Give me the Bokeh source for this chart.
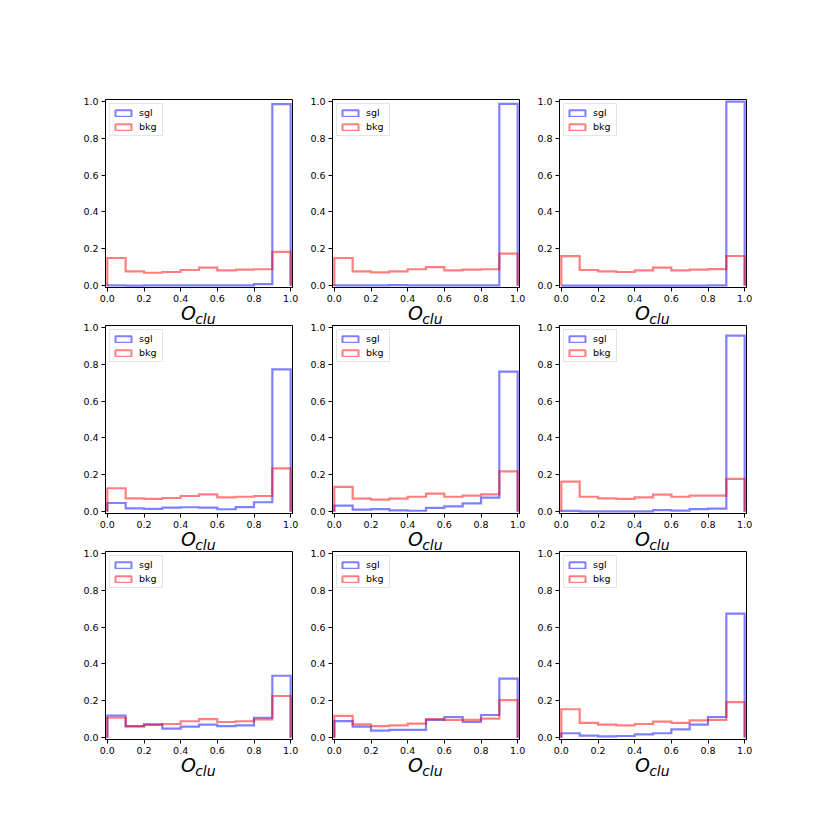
from bokeh.plotting import figure
from bokeh.layouts import gridplot
from bokeh.models import (Legend, LegendItem, FixedTicker, PrintfTickFormatter,
                          Range1d, LinearAxis)
from bokeh.embed import file_html
from bokeh.resources import INLINE

# ---- data (normalised histogram heights, 10 bins on [0, 1]) ----
bin_edges = [0.0, 0.1, 0.2, 0.3, 0.4, 0.5, 0.6, 0.7, 0.8, 0.9, 1.0]
tick_values = [0.0, 0.2, 0.4, 0.6, 0.8, 1.0]
series_labels = ["sgl", "bkg"]
xlabel_main = "O"
xlabel_sub = "clu"

sgl_1 = [0.001, 0.0, 0.001, 0.001, 0.001, 0.001, 0.001, 0.002, 0.008, 0.985]
bkg_1 = [0.150, 0.078, 0.070, 0.074, 0.085, 0.098, 0.083, 0.087, 0.089, 0.183]
sgl_2 = [0.001, 0.001, 0.001, 0.003, 0.002, 0.002, 0.001, 0.001, 0.002, 0.986]
bkg_2 = [0.150, 0.078, 0.072, 0.078, 0.089, 0.101, 0.083, 0.087, 0.089, 0.174]
sgl_3 = [0.0, 0.0, 0.0, 0.0, 0.0, 0.0, 0.0, 0.0, 0.001, 0.999]
bkg_3 = [0.160, 0.085, 0.078, 0.074, 0.083, 0.098, 0.083, 0.087, 0.090, 0.161]
sgl_4 = [0.047, 0.018, 0.015, 0.022, 0.024, 0.022, 0.013, 0.025, 0.051, 0.772]
bkg_4 = [0.127, 0.072, 0.069, 0.074, 0.085, 0.094, 0.078, 0.081, 0.085, 0.235]
sgl_5 = [0.033, 0.011, 0.014, 0.007, 0.005, 0.020, 0.029, 0.045, 0.076, 0.760]
bkg_5 = [0.134, 0.071, 0.065, 0.071, 0.081, 0.098, 0.081, 0.087, 0.094, 0.219]
sgl_6 = [0.004, 0.001, 0.001, 0.002, 0.002, 0.008, 0.006, 0.014, 0.016, 0.955]
bkg_6 = [0.163, 0.081, 0.072, 0.069, 0.078, 0.092, 0.081, 0.087, 0.087, 0.178]
sgl_7 = [0.119, 0.061, 0.072, 0.049, 0.060, 0.071, 0.063, 0.067, 0.108, 0.336]
bkg_7 = [0.108, 0.063, 0.069, 0.074, 0.089, 0.101, 0.085, 0.089, 0.099, 0.226]
sgl_8 = [0.090, 0.060, 0.038, 0.042, 0.042, 0.096, 0.112, 0.085, 0.123, 0.320]
bkg_8 = [0.118, 0.072, 0.063, 0.067, 0.076, 0.101, 0.096, 0.096, 0.103, 0.204]
sgl_9 = [0.024, 0.011, 0.007, 0.009, 0.018, 0.024, 0.045, 0.071, 0.112, 0.673]
bkg_9 = [0.154, 0.080, 0.071, 0.067, 0.074, 0.087, 0.080, 0.094, 0.096, 0.193]

panels = [
    [(sgl_1, bkg_1), (sgl_2, bkg_2), (sgl_3, bkg_3)],
    [(sgl_4, bkg_4), (sgl_5, bkg_5), (sgl_6, bkg_6)],
    [(sgl_7, bkg_7), (sgl_8, bkg_8), (sgl_9, bkg_9)],
]

SGL_COLOR = "blue"
BKG_COLOR = "red"
FONT = "DejaVu Sans"
NAN = float("nan")

FRAME_W = 187
BORDER_LEFT = [105, 28, 28]
BORDER_RIGHT = [12, 12, 20]
BORDER_TOP = [99, 2, 2]
BORDER_BOTTOM = [36, 36, 50]
# rows overlap slightly (as the x labels do in the original); the pulled-up
# rows get a taller nominal frame so the drawn frame stays 188 px high
ROW_PULL_UP = [0, 6, 12]
FRAME_H = [188, 194, 200]

# horizontal anchor positions (data units) of the two parts of the x label
XLABEL_MAIN_POS = 0.442
XLABEL_SUB_POS = 0.535


def step_path(edges, heights):
    xs, ys = [edges[0]], [0.0]
    for i, h in enumerate(heights):
        xs += [edges[i], edges[i + 1]]
        ys += [h, h]
    xs.append(edges[-1])
    ys.append(0.0)
    return xs, ys


def text_axis(pos, text, size, standoff):
    ax = LinearAxis(ticker=FixedTicker(ticks=[pos]),
                    major_label_overrides={pos: text})
    ax.axis_line_color = None
    ax.major_tick_line_color = None
    ax.minor_tick_line_color = None
    ax.major_tick_out = 0
    ax.major_tick_in = 0
    ax.major_label_standoff = standoff
    ax.major_label_text_font = FONT
    ax.major_label_text_font_style = "italic"
    ax.major_label_text_font_size = size
    ax.major_label_text_color = "black"
    return ax


def make_panel(sgl, bkg, r, c):
    p = figure(output_backend="svg", toolbar_location=None,
               frame_width=FRAME_W, frame_height=FRAME_H[r],
               x_range=Range1d(-0.01, 1.01), y_range=Range1d(-0.01, 1.01),
               min_border_left=BORDER_LEFT[c], min_border_right=BORDER_RIGHT[c],
               min_border_top=BORDER_TOP[r], min_border_bottom=BORDER_BOTTOM[r])
    if ROW_PULL_UP[r]:
        p.margin = (-ROW_PULL_UP[r], 0, 0, 0)
    p.background_fill_color = "white"
    p.border_fill_color = "white"
    p.border_fill_alpha = 0
    p.xgrid.visible = False
    p.ygrid.visible = False
    p.outline_line_color = "black"
    p.outline_line_width = 1
    p.outline_line_alpha = 1

    for ax in (p.xaxis[0], p.yaxis[0]):
        ax.ticker = FixedTicker(ticks=tick_values)
        ax.formatter = PrintfTickFormatter(format="%.1f")
        ax.axis_line_color = "black"
        ax.major_tick_line_color = "black"
        ax.major_tick_out = 4
        ax.major_tick_in = 0
        ax.minor_tick_line_color = None
        ax.major_label_text_font = FONT
        ax.major_label_text_font_size = "9.5px"
        ax.major_label_text_color = "black"
        ax.major_label_standoff = 3

    xs, ys = step_path(bin_edges, sgl)
    p.line(xs, ys, line_color=SGL_COLOR, line_alpha=0.5, line_width=2.2, line_join="miter")
    xs, ys = step_path(bin_edges, bkg)
    p.line(xs, ys, line_color=BKG_COLOR, line_alpha=0.5, line_width=2.2, line_join="miter")

    # legend proxies (outlined boxes like matplotlib step-hist patches), never drawn
    r_s = p.quad(left=[NAN], right=[NAN], bottom=[NAN], top=[NAN], fill_alpha=0,
                 line_color=SGL_COLOR, line_alpha=0.5, line_width=2)
    r_b = p.quad(left=[NAN], right=[NAN], bottom=[NAN], top=[NAN], fill_alpha=0,
                 line_color=BKG_COLOR, line_alpha=0.5, line_width=2)
    legend = Legend(items=[LegendItem(label=series_labels[0], renderers=[r_s]),
                           LegendItem(label=series_labels[1], renderers=[r_b])],
                    location="top_left", margin=4, padding=3, spacing=3,
                    glyph_width=20, glyph_height=8, label_height=10,
                    label_standoff=6, label_text_font=FONT,
                    label_text_font_size="9.5px", label_text_color="black",
                    border_line_color="#cccccc", border_line_width=1,
                    background_fill_alpha=0.8)
    p.add_layout(legend)

    # x label "O_clu": main letter and subscript as two text-only axes below
    p.add_layout(text_axis(XLABEL_MAIN_POS, xlabel_main, "19px", -3), "below")
    p.add_layout(text_axis(XLABEL_SUB_POS, xlabel_sub, "14px", -16), "below")
    return p


rows = []
for r, row in enumerate(panels):
    rows.append([make_panel(s, b, r, c) for c, (s, b) in enumerate(row)])

grid = gridplot(rows, toolbar_location=None)

open("out.html", "w").write(file_html(grid, INLINE))
